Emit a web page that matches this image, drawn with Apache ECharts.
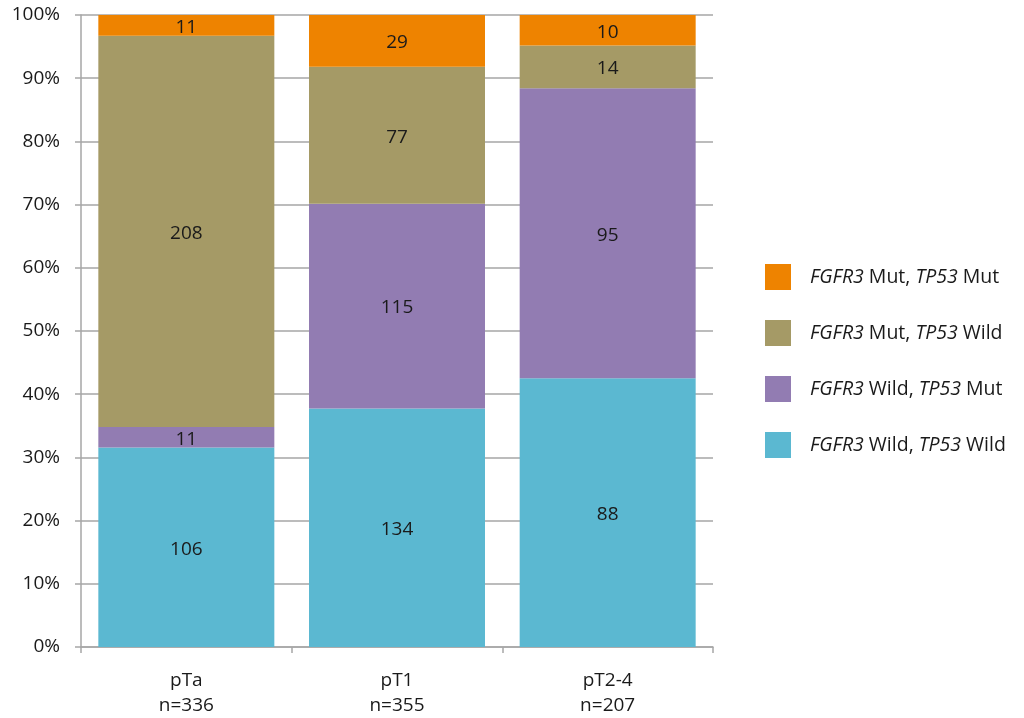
<!DOCTYPE html>
<html>
<head>
<meta charset="utf-8">
<script src="https://cdn.jsdelivr.net/npm/echarts@6/dist/echarts.min.js"></script>
<style>
  html, body { margin: 0; padding: 0; background: #fff; }
  #chart { width: 1024px; height: 718px; }
</style>
</head>
<body>
<div id="chart"></div>
<script>
// Tumour stage groups and their case counts
const stages = ['pTa', 'pT1', 'pT2-4'];
const totals = [336, 355, 207];

// Case counts per mutation group, per stage
const wildWild = [106, 134, 88];   // FGFR3 Wild, TP53 Wild
const wildMut  = [11, 115, 95];    // FGFR3 Wild, TP53 Mut
const mutWild  = [208, 77, 14];    // FGFR3 Mut, TP53 Wild
const mutMut   = [11, 29, 10];     // FGFR3 Mut, TP53 Mut

const yTicks = [0, 10, 20, 30, 40, 50, 60, 70, 80, 90, 100];

const groups = [
  { gene1: 'FGFR3', s1: 'Wild', gene2: 'TP53', s2: 'Wild', counts: wildWild, color: '#5BB8D1' },
  { gene1: 'FGFR3', s1: 'Wild', gene2: 'TP53', s2: 'Mut',  counts: wildMut,  color: '#927CB2' },
  { gene1: 'FGFR3', s1: 'Mut',  gene2: 'TP53', s2: 'Wild', counts: mutWild,  color: '#A59A66' },
  { gene1: 'FGFR3', s1: 'Mut',  gene2: 'TP53', s2: 'Mut',  counts: mutMut,   color: '#EE8300' }
];

const font = '"Open Sans", "Liberation Sans", sans-serif';
const nameOf = g => g.gene1 + ' ' + g.s1 + ', ' + g.gene2 + ' ' + g.s2;

const series = groups.map(g => ({
  name: nameOf(g),
  type: 'bar',
  stack: 'total',
  barWidth: 176,
  itemStyle: { color: g.color },
  data: g.counts.map((c, i) => c / totals[i] * 100),
  label: {
    show: true,
    position: 'inside',
    offset: [0, 2],
    color: '#1a1a1a',
    fontFamily: font,
    fontSize: 19,
    formatter: p => String(g.counts[p.dataIndex])
  },
  emphasis: { disabled: true }
}));

const chart = echarts.init(document.getElementById('chart'));
chart.setOption({
  animation: false,
  backgroundColor: '#fff',
  grid: { left: 81, right: 311, top: 15, bottom: 70 },
  xAxis: {
    type: 'category',
    data: stages,
    axisLine: { lineStyle: { color: '#a6a6a6', width: 1.5 } },
    axisTick: { show: true, length: 6, alignWithLabel: false, lineStyle: { color: '#a6a6a6', width: 1.5 } },
    axisLabel: {
      fontFamily: font,
      fontSize: 19,
      color: '#1a1a1a',
      lineHeight: 25,
      margin: 21,
      formatter: (v, i) => v + '\nn=' + totals[i]
    }
  },
  yAxis: {
    type: 'value',
    min: yTicks[0],
    max: yTicks[yTicks.length - 1],
    interval: 10,
    axisLine: { show: true, lineStyle: { color: '#a6a6a6', width: 1.5 } },
    axisTick: { show: true, length: 6, lineStyle: { color: '#a6a6a6', width: 1.5 } },
    splitLine: { show: true, lineStyle: { color: '#a6a6a6', width: 1.5 } },
    axisLabel: {
      fontFamily: font,
      fontSize: 19,
      color: '#1a1a1a',
      margin: 21,
      formatter: v => v + '%'
    }
  },
  legend: {
    orient: 'vertical',
    left: 760,
    top: 259,
    itemWidth: 26,
    itemHeight: 26,
    itemGap: 30,
    icon: 'rect',
    data: groups.slice().reverse().map(nameOf),
    selectedMode: false,
    textStyle: {
      fontFamily: font,
      fontSize: 19.5,
      color: '#1a1a1a',
      padding: [0, 0, 0, 14],
      rich: {
        i: { fontFamily: font, fontSize: 19.5, fontStyle: 'italic', color: '#1a1a1a' },
        n: { fontFamily: font, fontSize: 19.5, color: '#1a1a1a' }
      }
    },
    formatter: name => {
      const g = groups.find(x => nameOf(x) === name);
      return '{i|' + g.gene1 + '}{n| ' + g.s1 + ', }{i|' + g.gene2 + '}{n| ' + g.s2 + '}';
    }
  },
  series: series
});
</script>
</body>
</html>
